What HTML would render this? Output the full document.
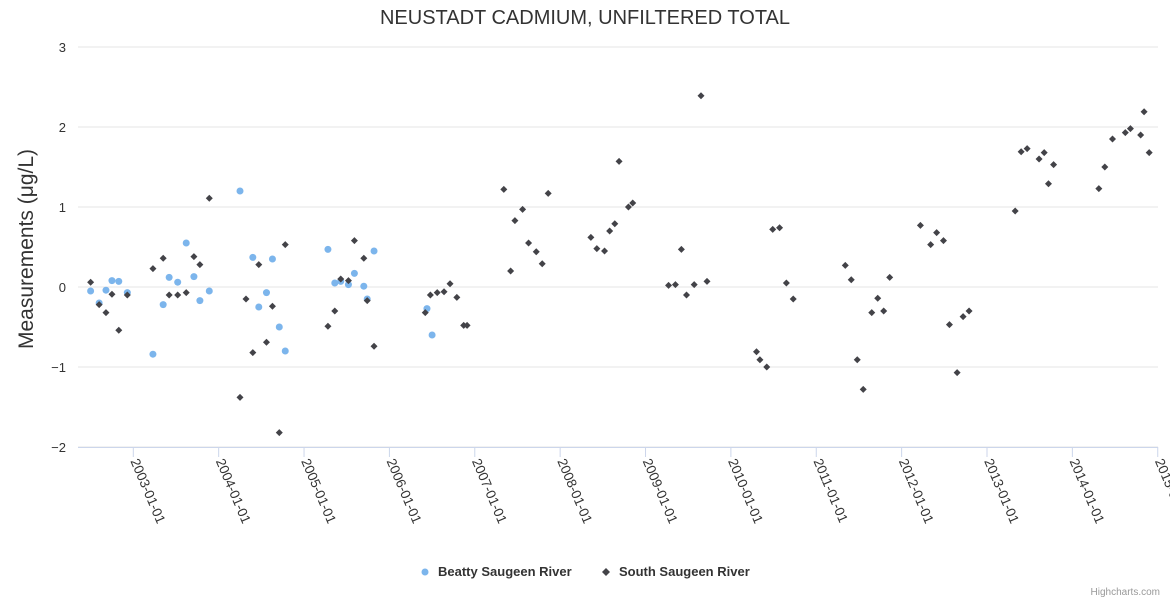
<!DOCTYPE html>
<html><head><meta charset="utf-8"><style>
body{margin:0;background:#fff;}
svg{font-family:"Liberation Sans","DejaVu Sans",sans-serif;}
</style></head><body>
<svg id="chart" width="1170" height="600">
<rect width="1170" height="600" fill="#fff"/>
<text x="585" y="24" text-anchor="middle" font-size="20" fill="#333">NEUSTADT CADMIUM, UNFILTERED TOTAL</text>
<g id="grid"></g>
<g id="yl"></g>
<g id="xl"></g>
<text transform="translate(33,249) rotate(-90)" text-anchor="middle" font-size="21" fill="#333">Measurements (μg/L)</text>
<g id="pts"></g>
<g>
<g>
<circle cx="425" cy="572" r="3.5" fill="#7cb5ec"/>
<text x="438" y="576" font-size="13" font-weight="bold" fill="#333">Beatty Saugeen River</text></g>
<g>
<path d="M606,568 L610,572 L606,576 L602,572Z" fill="#434348"/>
<text x="619" y="576" font-size="13" font-weight="bold" fill="#333">South Saugeen River</text></g>
</g>
<text x="1160" y="595" text-anchor="end" font-size="10" fill="#999">Highcharts.com</text>
</svg>
<script>
const yTicks=[-2,-1,0,1,2,3];
const xTickYears=[2003,2004,2005,2006,2007,2008,2009,2010,2011,2012,2013,2014,2015];
const beattyX=[2002.50,2002.60,2002.68,2002.75,2002.83,2002.93,2003.23,2003.35,2003.42,2003.52,2003.62,2003.71,2003.78,2003.89,2004.25,2004.40,2004.47,2004.56,2004.63,2004.71,2004.78,2005.28,2005.36,2005.43,2005.52,2005.59,2005.70,2005.74,2005.82,2006.44,2006.50];
const beattyY=[-0.05,-0.2,-0.04,0.08,0.07,-0.07,-0.84,-0.22,0.12,0.06,0.55,0.13,-0.17,-0.05,1.2,0.37,-0.25,-0.07,0.35,-0.5,-0.8,0.47,0.05,0.07,0.03,0.17,0.01,-0.15,0.45,-0.27,-0.6];
const southX=[2002.50,2002.60,2002.68,2002.75,2002.83,2002.93,2003.23,2003.35,2003.42,2003.52,2003.62,2003.71,2003.78,2003.89,2004.25,2004.32,2004.40,2004.47,2004.56,2004.63,2004.71,2004.78,2005.28,2005.36,2005.43,2005.52,2005.59,2005.70,2005.74,2005.82,
2006.42,2006.48,2006.56,2006.64,2006.71,2006.79,2006.87,2006.91,2007.34,2007.42,2007.47,2007.56,2007.63,2007.72,2007.79,2007.86,2008.36,2008.43,2008.52,2008.58,2008.64,2008.69,2008.80,2008.85,
2009.27,2009.35,2009.42,2009.48,2009.57,2009.65,2009.72,2010.30,2010.34,2010.42,2010.49,2010.57,2010.65,2010.73,2011.34,2011.41,2011.48,2011.55,2011.65,2011.72,2011.79,2011.86,
2012.22,2012.34,2012.41,2012.49,2012.56,2012.65,2012.72,2012.79,2013.33,2013.40,2013.47,2013.61,2013.67,2013.72,2013.78,2014.31,2014.38,2014.47,2014.62,2014.68,2014.80,2014.84,2014.90];
const southY=[0.06,-0.22,-0.32,-0.09,-0.54,-0.1,0.23,0.36,-0.1,-0.1,-0.07,0.38,0.28,1.11,-1.38,-0.15,-0.82,0.28,-0.69,-0.24,-1.82,0.53,-0.49,-0.3,0.1,0.08,0.58,0.36,-0.17,-0.74,
-0.32,-0.1,-0.07,-0.06,0.04,-0.13,-0.48,-0.48,1.22,0.2,0.83,0.97,0.55,0.44,0.29,1.17,0.62,0.48,0.45,0.7,0.79,1.57,1.0,1.05,
0.02,0.03,0.47,-0.1,0.03,2.39,0.07,-0.81,-0.91,-1.0,0.72,0.74,0.05,-0.15,0.27,0.09,-0.91,-1.28,-0.32,-0.14,-0.3,0.12,
0.77,0.53,0.68,0.58,-0.47,-1.07,-0.37,-0.3,0.95,1.69,1.73,1.6,1.68,1.29,1.53,1.23,1.5,1.85,1.93,1.98,1.9,2.19,1.68];
const NS='http://www.w3.org/2000/svg';
const L=78,R=1158,T=47,B=447;
const xs=v=>133.3+(v-2003)*85.37;
const ys=v=>B-(v+2)*(B-T)/5;
function mk(t,a,p){const e=document.createElementNS(NS,t);for(const k in a)e.setAttribute(k,a[k]);p.appendChild(e);return e;}
const grid=document.getElementById('grid'),yl=document.getElementById('yl'),xl=document.getElementById('xl'),pts=document.getElementById('pts');
yTicks.forEach(v=>{
 const g=mk('line',{x1:L,x2:R,y1:ys(v),y2:ys(v),stroke:'#e6e6e6','stroke-width':1},grid);
 
 
 const t=mk('text',{x:66,y:ys(v)+5,'text-anchor':'end','font-size':13,fill:'#333'},yl);
 t.textContent=(v<0?'\u2212'+(-v):v);
 
 
});
const ax=mk('line',{x1:L,x2:R,y1:B+0.5,y2:B+0.5,stroke:'#ccd6eb','stroke-width':1},grid);


xTickYears.forEach(yr=>{
 const x=xs(yr);
 const tk=mk('line',{x1:x,x2:x,y1:B,y2:B+10,stroke:'#ccd6eb'},xl);
 
 
 const t=mk('text',{transform:`translate(${x-3},${B+14}) rotate(67)`,'font-size':13.5,fill:'#333'},xl);
 t.textContent=yr+'-01-01';
 
 
});
beattyX.forEach((v,i)=>{
 const c=mk('circle',{cx:xs(v),cy:ys(beattyY[i]),r:3.5,fill:'#7cb5ec'},pts);
 
 
});
southX.forEach((v,i)=>{
 const x=xs(v),y=ys(southY[i]);
 const p=mk('path',{d:`M${x},${y-3.5} L${x+3.5},${y} L${x},${y+3.5} L${x-3.5},${y}Z`,fill:'#434348'},pts);
 
 
});
</script>
</body></html>
